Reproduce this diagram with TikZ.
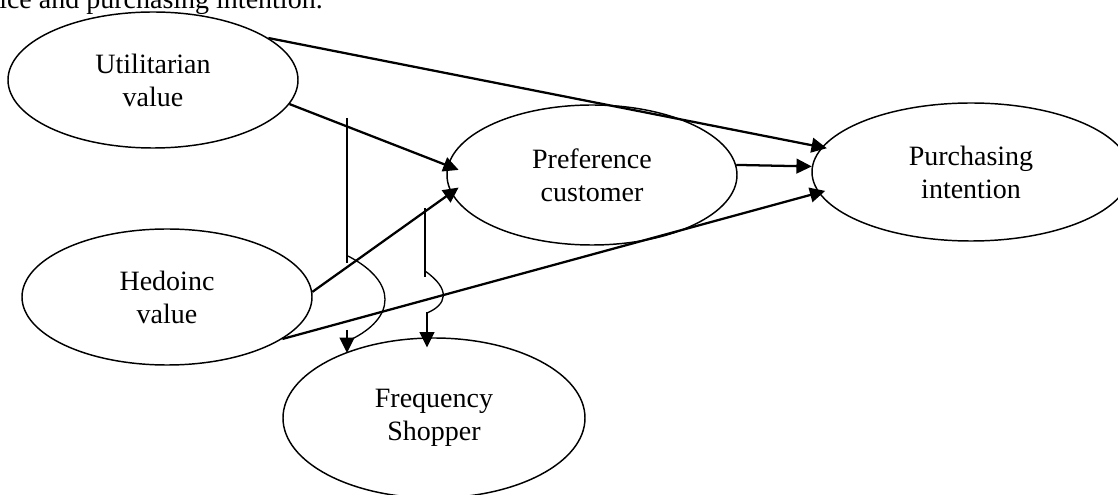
\documentclass[tikz,border=0pt]{standalone}
\usepackage{fontspec}
\setmainfont{Liberation Serif}
\usetikzlibrary{arrows.meta,calc,shapes.geometric}
\begin{document}
\begin{tikzpicture}[x=0.75pt,y=-0.75pt,
  bub/.style={ellipse,draw,line width=1.1pt,inner sep=0pt,align=center,font=\fontsize{21}{24.75}\selectfont},
  conn/.style={line width=1.7pt,-{Triangle[length=11.5pt,width=11pt]}},
  thinline/.style={line width=1.1pt},
  curveline/.style={line width=1pt},
]
\useasboundingbox (0,0) rectangle (1118,495);
\clip (0,0) rectangle (1118,495);

\node[anchor=base west,inner sep=0pt,font=\fontsize{21}{24.75}\selectfont] (cap) at (-1,9) {ice and purchasing intention.};

\node[bub,minimum width=217.5pt,minimum height=102pt] (util) at (153,80) {Utilitarian\\value};
\node[bub,minimum width=217.5pt,minimum height=105pt] (pref) at (592,175) {Preference\\customer};
\node[bub,minimum width=238.5pt,minimum height=103.5pt] (purch) at (971,172) {Purchasing\\intention};
\node[bub,minimum width=217.5pt,minimum height=102pt] (hed) at (167,297) {Hedoinc\\value};
\node[bub,minimum width=226.5pt,minimum height=120pt] (freq) at (434,418) {Frequency\\Shopper};

\draw[conn] (util.20) -- ($(purch.171)+(6,0)$);
\draw[conn] (util.-10) -- ($(pref.178)+(12,0)$);
\draw[conn] (hed.2) -- ($(pref.185)+(10,0)$);
\draw[conn] (hed.-20) -- ($(purch.187)+(8,0)$);
\draw[conn] (pref.4) -- (purch.178);

\coordinate (a1) at (347,118);
\coordinate (a2) at (347,263);
\coordinate (a3) at (348,256);
\coordinate (a4) at (350,340);
\coordinate (a5) at (347,330);
\draw[thinline] (a1) -- (a2);
\draw[curveline] (a3) .. controls (398,282) and (396,318) .. (a4);
\draw[conn] (a5) -- (a5 |- freq.144);

\coordinate (b1) at (425,208);
\coordinate (b2) at (425,277);
\coordinate (b3) at (425,271);
\coordinate (b4) at (427,313);
\coordinate (b5) at (427,312);
\draw[thinline] (b1) -- (b2);
\draw[curveline] (b3) .. controls (452,290) and (446,305) .. (b4);
\draw[conn] (b5) -- ($(b5 |- freq.96)+(0,10)$);
\end{tikzpicture}
\end{document}
